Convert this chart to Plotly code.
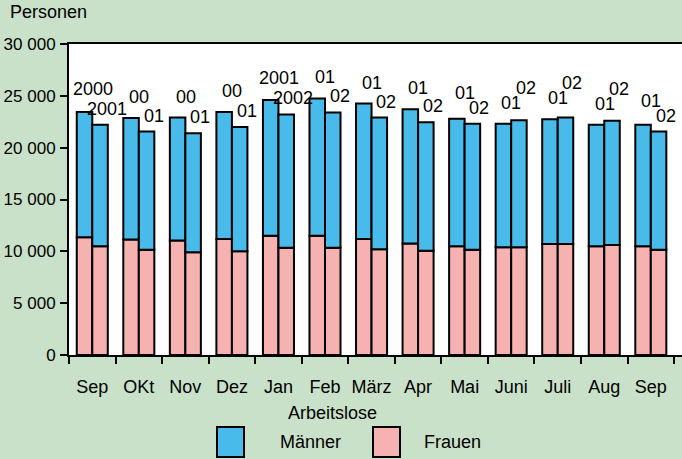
import plotly.graph_objects as go

# ---- data ----
months = ["Sep", "OKt", "Nov", "Dez", "Jan", "Feb", "März", "Apr", "Mai", "Juni", "Juli", "Aug", "Sep"]
# first bar of each pair (previous year), second bar (following year)
frauen_a = [11350, 11150, 11050, 11200, 11500, 11500, 11200, 10750, 10500, 10400, 10700, 10500, 10500]
maenner_a = [12100, 11700, 11850, 12250, 13100, 13250, 13050, 12950, 12300, 11900, 12050, 11700, 11700]
frauen_b = [10500, 10150, 9900, 10000, 10350, 10350, 10200, 10050, 10150, 10400, 10700, 10600, 10150]
maenner_b = [11700, 11400, 11500, 12000, 12850, 13050, 12700, 12400, 12150, 12250, 12200, 12000, 11400]
labels_a = ["2000", "00", "00", "00", "2001", "01", "01", "01", "01", "01", "01", "01", "01"]
labels_b = ["2001", "01", "01", "01", "2002", "02", "02", "02", "02", "02", "02", "02", "02"]
y_tickvals = [0, 5000, 10000, 15000, 20000, 25000, 30000]
y_ticktext = ["0", "5 000", "10 000", "15 000", "20 000", "25 000", "30 000"]

BLUE = "#48BBEA"
PINK = "#F6B1B1"
GREEN = "#C9E1C9"
FONT = "Liberation Sans, Arial, sans-serif"

# plot area in pixels
L, T, R, B = 69, 44, 682, 355
W, H = 682, 459
YMAX = 30000
PX_PER_UNIT = (B - T) / YMAX

x = list(range(len(months)))
line = dict(color="black", width=2)

fig = go.Figure()
fig.add_bar(x=x, y=frauen_a, offsetgroup="a", marker=dict(color=PINK, line=line), name="Frauen")
fig.add_bar(x=x, y=maenner_a, base=frauen_a, offsetgroup="a", marker=dict(color=BLUE, line=line), name="Männer")
fig.add_bar(x=x, y=frauen_b, offsetgroup="b", marker=dict(color=PINK, line=line), name="Frauen")
fig.add_bar(x=x, y=maenner_b, base=frauen_b, offsetgroup="b", marker=dict(color=BLUE, line=line), name="Männer")

BARGAP = 1 / 3
half = (1 - BARGAP) / 4  # centre offset of each bar in the pair

SHIFT_A, SHIFT_B, MIN_SEP = 21, 16, 15
annotations = []
for i in x:
    ta = frauen_a[i] + maenner_a[i]
    tb = frauen_b[i] + maenner_b[i]
    sa, sb = SHIFT_A, SHIFT_B
    need = MIN_SEP + (5 if len(labels_a[i]) > 2 else 0)
    la = ta * PX_PER_UNIT + sa
    lb = tb * PX_PER_UNIT + sb
    if abs(la - lb) < need:
        if ta >= tb:
            sa += need - (la - lb)
        else:
            sb += need - (lb - la)
    annotations.append(dict(x=i - half, y=ta, xref="x", yref="y", text=labels_a[i],
                            showarrow=False, xshift=8, yshift=sa, yanchor="middle"))
    annotations.append(dict(x=i + half, y=tb, xref="x", yref="y", text=labels_b[i],
                            showarrow=False, xshift=7, yshift=sb, yanchor="middle"))


def px(xp):
    return (xp - L) / (R - L)


def py(yp):
    return (B - yp) / (B - T)


annotations.append(dict(x=px(8), y=py(12), xref="paper", yref="paper", text="Personen",
                        showarrow=False, xanchor="left", yanchor="middle"))
annotations.append(dict(x=px(332), y=py(413), xref="paper", yref="paper", text="Arbeitslose",
                        showarrow=False, xanchor="center", yanchor="middle"))
annotations.append(dict(x=px(278), y=py(442), xref="paper", yref="paper", text="Männer",
                        showarrow=False, xanchor="left", yanchor="middle"))
annotations.append(dict(x=px(422), y=py(442), xref="paper", yref="paper", text="Frauen",
                        showarrow=False, xanchor="left", yanchor="middle"))

shapes = [
    dict(type="rect", xref="paper", yref="paper", x0=px(217), x1=px(244), y0=py(457), y1=py(427),
         fillcolor=BLUE, line=dict(color="black", width=2)),
    dict(type="rect", xref="paper", yref="paper", x0=px(373), x1=px(400), y0=py(457), y1=py(427),
         fillcolor=PINK, line=dict(color="black", width=2)),
]

fig.update_layout(
    width=W, height=H,
    margin=dict(l=L, r=W - R, t=T, b=H - B, pad=0, autoexpand=False),
    paper_bgcolor=GREEN, plot_bgcolor="white",
    barmode="group", bargap=BARGAP, bargroupgap=0,
    showlegend=False,
    font=dict(family=FONT, size=18, color="black"),
    annotations=annotations, shapes=shapes,
)
fig.update_xaxes(
    range=[-0.5, 12.67], tickmode="array", tickvals=x, ticktext=months,
    ticks="outside", ticklen=0, showgrid=False, zeroline=False, automargin=False,
    showline=True, linecolor="black", linewidth=2, mirror=True,
    ticklabelstandoff=14,
    minor=dict(tickmode="array", tickvals=[i - 0.5 for i in x] + [len(x) - 0.5],
               ticks="outside", ticklen=7, tickwidth=2, tickcolor="black", showgrid=False),
)
fig.update_yaxes(
    range=[0, YMAX], tickmode="array", tickvals=y_tickvals, ticktext=y_ticktext,
    ticks="outside", ticklen=7, tickwidth=2, tickcolor="black", automargin=False,
    showgrid=False, zeroline=False, showline=True, linecolor="black", linewidth=2,
    tickfont=dict(size=17), ticklabelstandoff=1,
)
fig.write_html(
    "out.html",
    config={"displayModeBar": False},
    post_script="document.body.style.margin='0';document.body.style.overflow='hidden';"
                "document.body.style.background='" + GREEN + "';",
)
